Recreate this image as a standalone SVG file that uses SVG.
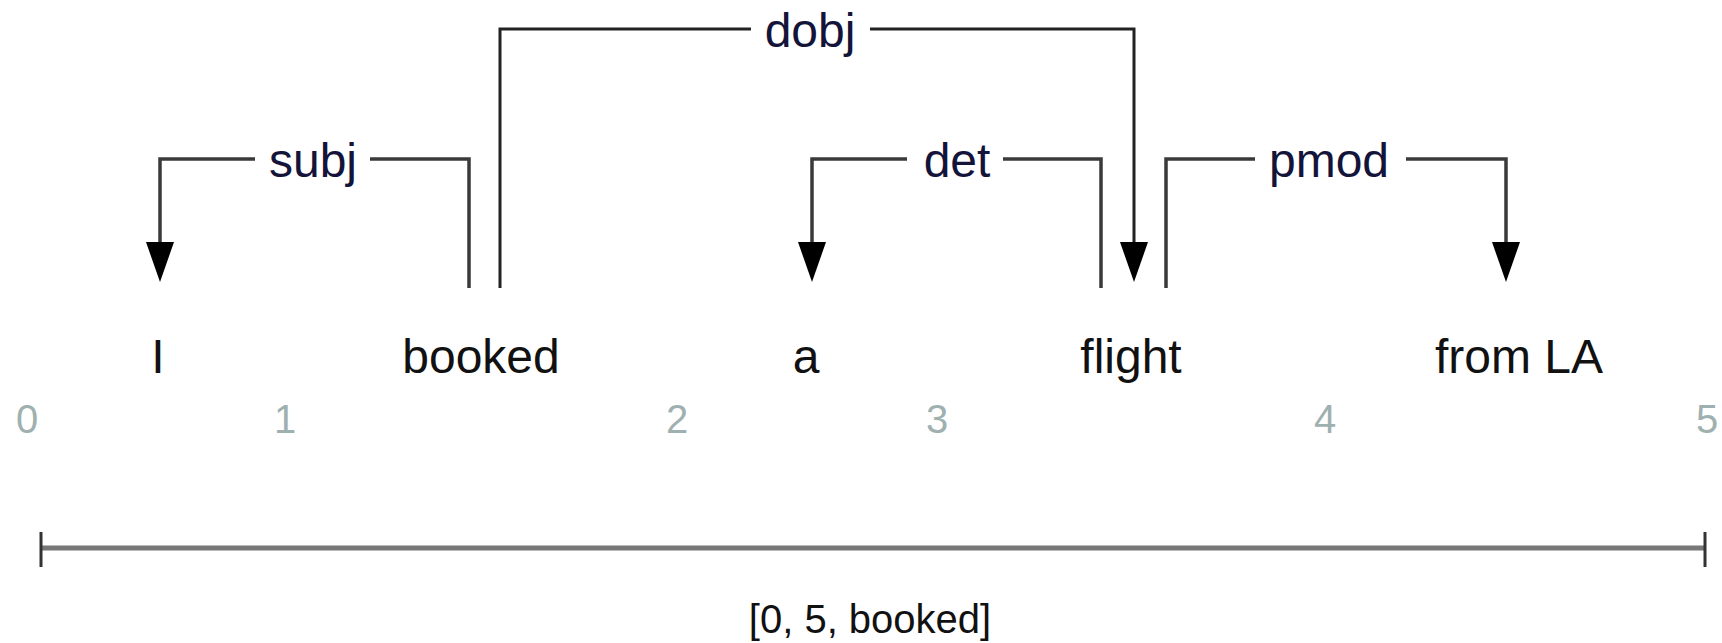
<svg xmlns="http://www.w3.org/2000/svg" width="1722" height="643" viewBox="0 0 1722 643">
<style>
.bg{fill:#ffffff}
.word{font-family:"Liberation Sans",Arial,sans-serif;font-size:48px;fill:#111;text-anchor:middle}
.lbl{font-family:"Liberation Sans",Arial,sans-serif;font-size:48px;fill:#14143a;text-anchor:middle}
.num{font-family:"Liberation Sans",Arial,sans-serif;font-size:40px;fill:#9fb0b0;text-anchor:middle}
.span{font-family:"Liberation Sans",Arial,sans-serif;font-size:40px;fill:#111;text-anchor:middle}
.edge{fill:none;stroke:#3a3a3a;stroke-width:3.5}
.top{fill:none;stroke:#222;stroke-width:3}
.head{fill:#000}
.bar{stroke:#777;stroke-width:5}
.tick{stroke:#333;stroke-width:3}
</style>
<defs>
<polygon id="ah" class="head" points="-14,0 14,0 0,40"/>
</defs>
<rect class="bg" x="0" y="0" width="1722" height="643"/>
<g id="connectors">
  <g id="e-subj">
    <polyline class="edge" points="255,159 160,159 160,244"/>
    <polyline class="edge" points="370,159 469,159 469,288"/>
    <use href="#ah" x="160" y="242"/>
    <text class="lbl" x="313" y="177">subj</text>
  </g>
  <g id="e-dobj">
    <polyline class="top" points="751,29 500,29 500,288"/>
    <polyline class="top" points="870,29 1134,29 1134,244"/>
    <use href="#ah" x="1134" y="242"/>
    <text class="lbl" x="810" y="47">dobj</text>
  </g>
  <g id="e-det">
    <polyline class="edge" points="907,159 812,159 812,244"/>
    <polyline class="edge" points="1003,159 1101,159 1101,288"/>
    <use href="#ah" x="812" y="242"/>
    <text class="lbl" x="957" y="177">det</text>
  </g>
  <g id="e-pmod">
    <polyline class="edge" points="1255,159 1166,159 1166,288"/>
    <polyline class="edge" points="1406,159 1506,159 1506,244"/>
    <use href="#ah" x="1506" y="242"/>
    <text class="lbl" x="1329" y="177">pmod</text>
  </g>
</g>
<g id="n-I"><text class="word" x="158" y="373">I</text></g>
<g id="n-booked"><text class="word" x="481" y="373">booked</text></g>
<g id="n-a"><text class="word" x="806" y="373">a</text></g>
<g id="n-flight"><text class="word" x="1131" y="373">flight</text></g>
<g id="n-fromLA"><text class="word" x="1519" y="373">from LA</text></g>
<g id="indices">
  <text class="num" x="27" y="433">0</text>
  <text class="num" x="285" y="433">1</text>
  <text class="num" x="677" y="433">2</text>
  <text class="num" x="937" y="433">3</text>
  <text class="num" x="1325" y="433">4</text>
  <text class="num" x="1707" y="433">5</text>
</g>
<g id="span">
  <line class="bar" x1="41" y1="548" x2="1705" y2="548"/>
  <line class="tick" x1="41" y1="532" x2="41" y2="567"/>
  <line class="tick" x1="1705" y1="532" x2="1705" y2="567"/>
  <text class="span" x="870" y="633">[0, 5, booked]</text>
</g>
</svg>
